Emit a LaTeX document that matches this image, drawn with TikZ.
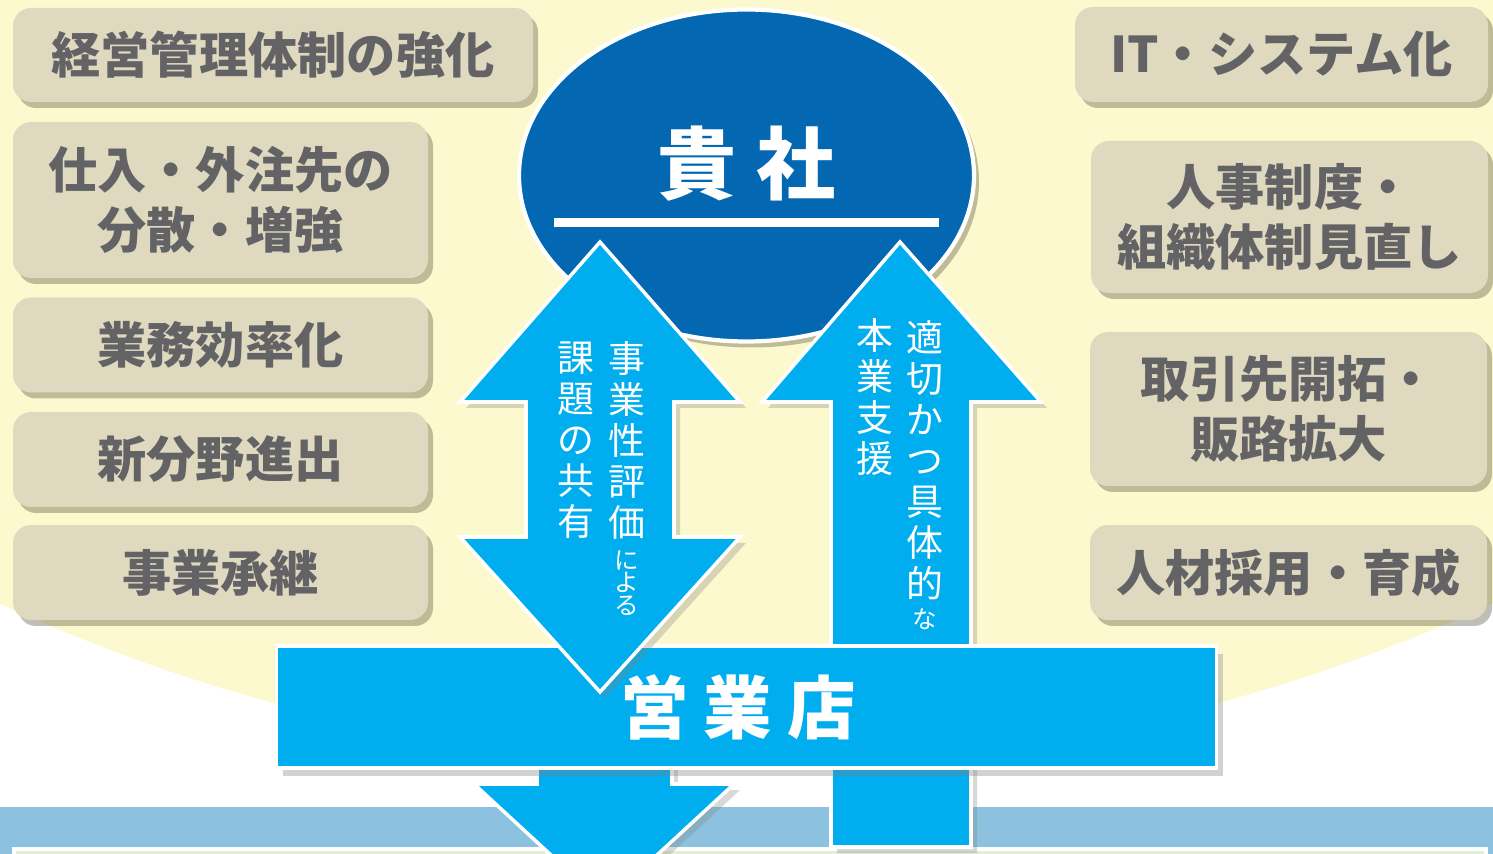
\documentclass[tikz,border=0pt]{standalone}
\usepackage{fontspec}
\setmainfont{Noto Sans CJK JP}
\usepackage{xcolor}
\usepackage{tikz}
\usetikzlibrary{
  positioning,
  shapes.geometric,
  shadows
}

\definecolor{haikei}{HTML}{FDF9CE}
\definecolor{hako}{HTML}{DED9BF}
\definecolor{moji}{HTML}{636366}
\definecolor{kon}{HTML}{0467B2}
\definecolor{mizu}{HTML}{00AEEF}
\definecolor{obi}{HTML}{8CC2DF}
\definecolor{midori}{HTML}{E3EED6}

\begin{document}
\begin{tikzpicture}[x=0.1mm,y=-0.1mm,
  kadai/.style={fill=hako,rounded corners=1.8mm,text=moji,align=center,inner sep=0pt,
    font=\bfseries\fontsize{14}{17.3}\selectfont,
    drop shadow={shadow xshift=0.5mm,shadow yshift=-0.6mm,fill=black!60!olive,opacity=0.35}},
  yajirushi/.style={fill=mizu,draw=white,line width=1pt,
    drop shadow={shadow xshift=0.6mm,shadow yshift=-0.6mm,opacity=0.3}},
  tate/.style={text=white,align=center,inner sep=0pt,font=\fontsize{10.5}{11.67}\selectfont},
  tatesho/.style={text=white,align=center,inner sep=0pt,font=\fontsize{7}{6.5}\selectfont}]
  \useasboundingbox (0,0) rectangle (1493,854);
  \clip (0,0) rectangle (1493,854);
  % 背景
  \fill[white] (0,0) rectangle (1493,854);
  \fill[haikei] (746,-1025) circle (179.1mm);
  \fill[obi] (0,807) rectangle (1493,860);
  \filldraw[fill=midori,draw=white,line width=1.2pt] (14,849) rectangle (1486,880);
  % 課題（左）
  \node[kadai,minimum width=52mm,minimum height=9.4mm] (keiei) at (273,55) {経営管理体制の強化};
  \node[kadai,minimum width=41.5mm,minimum height=15.6mm] (shiire) at (220.5,200) {仕入・外注先の\\分散・増強};
  \node[kadai,minimum width=41.5mm,minimum height=9.5mm] (koritsu) at (220.5,345) {業務効率化};
  \node[kadai,minimum width=41.5mm,minimum height=9.5mm] (shinbunya) at (220.5,459.5) {新分野進出};
  \node[kadai,minimum width=41.5mm,minimum height=9.5mm] (shokei) at (220.5,572.5) {事業承継};
  % 課題（右）
  \node[kadai,minimum width=41.3mm,minimum height=9.5mm] (it) at (1281.5,54.5) {IT・システム化};
  \node[kadai,minimum width=39.7mm,minimum height=15.2mm] (jinji) at (1289.5,217) {人事制度・\\組織体制見直し};
  \node[kadai,minimum width=39.7mm,minimum height=15.4mm] (torihiki) at (1288.5,409) {取引先開拓・\\販路拡大};
  \node[kadai,minimum width=39.7mm,minimum height=9.5mm] (saiyo) at (1288.5,572.5) {人材採用・育成};
  % 貴社
  \node[ellipse,fill=kon,draw=white,line width=1.2pt,minimum width=45.5mm,minimum height=33.2mm,
    drop shadow={shadow xshift=0.5mm,shadow yshift=-0.6mm,fill=black!60!olive,opacity=0.35}] (kisha) at (746.5,175.5) {};
  \node[text=white,font=\bfseries\fontsize{22.5}{24}\selectfont] (kishamei) at (747,164) {貴\hspace{2mm}社};
  \draw[white,line width=0.9mm] (554,222.5) -- (939,222.5);
  % 矢印
  \draw[yajirushi] (900,242) -- (1041,402) -- (971,402) -- (971,847) -- (831,847) -- (831,402) -- (762,402) -- cycle;
  \draw[yajirushi] (537,740) -- (672,740) -- (672,784) -- (734,784) -- (604,904) -- (474,784) -- (537,784) -- cycle;
  % 営業店
  \node[fill=mizu,draw=white,line width=1pt,minimum width=94mm,minimum height=12.2mm,
    drop shadow={shadow xshift=0.6mm,shadow yshift=-0.8mm,opacity=0.35}] (eigyo) at (746.5,707) {};
  \node[text=white,font=\bfseries\fontsize{19.5}{20}\selectfont] (eigyomei) at (738,707) {営\hspace{1.5mm}業\hspace{1.5mm}店};
  \draw[yajirushi] (600,242) -- (740,402) -- (674,402) -- (674,537) -- (740,537) -- (600,692)
    -- (460,537) -- (526,537) -- (526,402) -- (460,402) -- cycle;
  % 縦書き
  \node[tate] (hyoka) at (627,440) {事\\業\\性\\評\\価};
  \node[tatesho,below=1mm of hyoka] (niyoru) {に\\よ\\る};
  \node[tate] (kyoyu) at (576,440) {課\\題\\の\\共\\有};
  \node[tate] (tekisetsu) at (925,460) {適\\切\\か\\つ\\具\\体\\的};
  \node[tatesho,below=0.8mm of tekisetsu] (na) {な};
  \node[tate] (shien) at (875,397.5) {本\\業\\支\\援};
\end{tikzpicture}
\end{document}
